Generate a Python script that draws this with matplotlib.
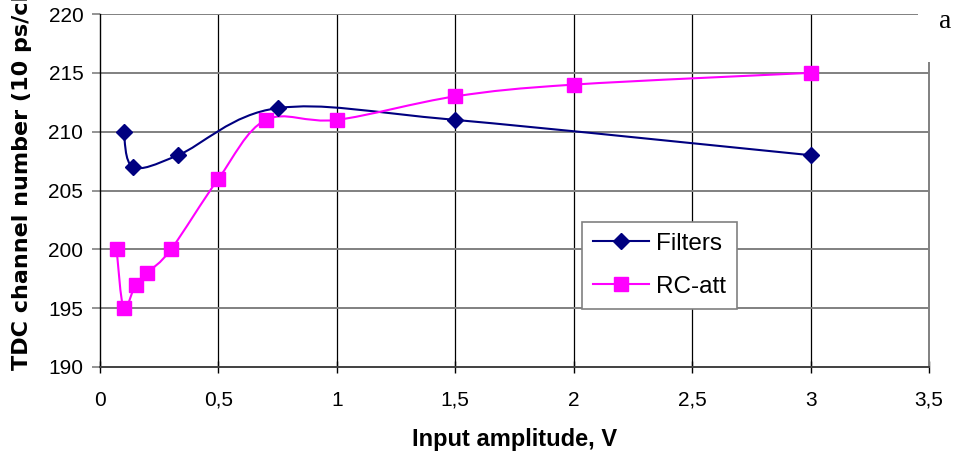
import numpy as np
import matplotlib.pyplot as plt
from matplotlib.path import Path
from matplotlib.patches import PathPatch, Rectangle
from matplotlib.lines import Line2D

plt.rcParams['font.family'] = ['Liberation Sans', 'DejaVu Sans']

# Data
filters_x = [0.1, 0.14, 0.33, 0.75, 1.5, 3.0]
filters_y = [210, 207, 208, 212, 211, 208]
rc_x = [0.07, 0.1, 0.15, 0.2, 0.3, 0.5, 0.7, 1.0, 1.5, 2.0, 3.0]
rc_y = [200, 195, 197, 198, 200, 206, 211, 211, 213, 214, 215]

x_ticks = [0, 0.5, 1, 1.5, 2, 2.5, 3, 3.5]
x_tick_labels = ['0', '0,5', '1', '1,5', '2', '2,5', '3', '3,5']
y_ticks = [190, 195, 200, 205, 210, 215, 220]


def smooth_path(xs, ys):
    # Excel-like smoothed line: Catmull-Rom segments as cubic Bezier
    p = np.column_stack([xs, ys]).astype(float)
    verts = [p[0]]
    codes = [Path.MOVETO]
    n = len(p)
    for i in range(n - 1):
        p0 = p[i - 1] if i > 0 else p[i]
        p1, p2 = p[i], p[i + 1]
        p3 = p[i + 2] if i + 2 < n else p[i + 1]
        c1 = p1 + (p2 - p0) / 6
        c2 = p2 - (p3 - p1) / 6
        verts += [c1, c2, p2]
        codes += [Path.CURVE4] * 3
    return Path(verts, codes)


fig = plt.figure(figsize=(9.59, 4.66), dpi=100)
ax = fig.add_axes([100 / 959, 1 - 367 / 466, 829 / 959, 353 / 466])

ax.set_xlim(0, 3.5)
ax.set_ylim(190, 220)
ax.set_xticks(x_ticks)
ax.set_xticklabels(x_tick_labels)
ax.set_yticks(y_ticks)

# Grid: black verticals, gray horizontals
for xv in x_ticks[1:-1]:
    ax.axvline(xv, color='black', lw=0.9, zorder=1)
for yv in y_ticks[1:]:
    ax.axhline(yv, color='#808080', lw=1.4, zorder=1)

ax.spines['right'].set_color('#808080')
ax.spines['right'].set_linewidth(1.4)
ax.spines['top'].set_visible(False)
ax.spines['left'].set_color('black')
ax.spines['left'].set_linewidth(1.0)
ax.spines['bottom'].set_color('#404040')
ax.spines['bottom'].set_linewidth(1.4)

ax.tick_params(axis='x', direction='inout', length=8, width=1, colors='black',
               labelsize=15, pad=13)
ax.tick_params(axis='y', direction='out', length=6, width=1.2, color='#808080',
               labelcolor='black', labelsize=15, pad=6)

navy = '#000080'
magenta = '#FF00FF'

ax.add_patch(PathPatch(smooth_path(filters_x, filters_y), fc='none', ec=navy,
                       lw=1.5, zorder=3))
ax.add_patch(PathPatch(smooth_path(rc_x, rc_y), fc='none', ec=magenta,
                       lw=1.5, zorder=3))
ax.plot(filters_x, filters_y, ls='none', marker='D', ms=8, color=navy, zorder=4)
ax.plot(rc_x, rc_y, ls='none', marker='s', ms=9.5, color=magenta, zorder=4)

handles = [Line2D([], [], color=navy, lw=1.5, marker='D', ms=8),
           Line2D([], [], color=magenta, lw=1.5, marker='s', ms=9.5)]
leg = ax.legend(handles, ['Filters', 'RC-att'], loc='upper left',
                bbox_to_anchor=((582 - 100) / 829, (367 - 222) / 353),
                borderaxespad=0, fontsize=17.5, frameon=True, fancybox=False,
                framealpha=1, edgecolor='#808080', borderpad=0.45,
                labelspacing=0.85, handlelength=2.3, handletextpad=0.3)
leg.get_frame().set_linewidth(1.2)
leg.set_zorder(5)

ax.set_xlabel('Input amplitude, V', fontsize=17, fontweight='bold', labelpad=13)
fig.text(22 / 959, 1 - 370 / 466, 'TDC channel number (10 ps/ch)', rotation=90,
         ha='center', va='bottom', fontsize=16, fontweight='bold',
         family=['DejaVu Sans'])

# white patch behind panel letter
fig.add_artist(Rectangle((918 / 959, 1 - 62 / 466), 41 / 959, 62 / 466,
                         transform=fig.transFigure, fc='white', ec='none',
                         zorder=10))
fig.text(945 / 959, 1 - 22 / 466, 'a', family=['Liberation Serif', 'DejaVu Serif'],
         fontsize=20, ha='center', va='center', zorder=11)

fig.savefig('out.png', dpi=100)
